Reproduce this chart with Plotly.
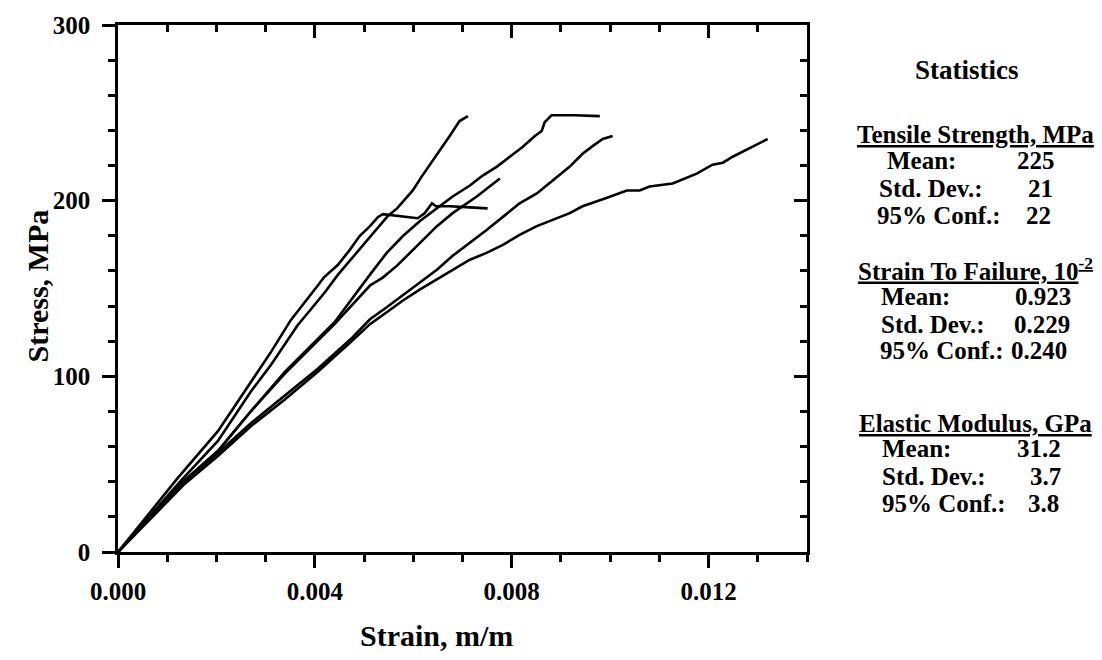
import plotly.graph_objects as go

# ---------------- data (strain in m/m, stress in MPa) ----------------
strain_a = [0, 0.00128, 0.00203, 0.00270, 0.00311, 0.00365, 0.00392, 0.00420, 0.00447, 0.00473,
            0.00502, 0.00528, 0.00548, 0.00567, 0.00599, 0.00617, 0.00638, 0.00656, 0.00674,
            0.00686, 0.00694, 0.00711]
stress_a = [0, 40.6, 63.2, 91.4, 106.6, 129.1, 138.2, 147.7, 157.9, 166.4,
            175.9, 184.4, 191.2, 195.6, 205.8, 213.7, 222.2, 229.0, 236.8,
            241.9, 245.3, 248.1]

strain_b = [0, 0.00122, 0.00203, 0.00270, 0.00311, 0.00351, 0.00380, 0.00406, 0.00418, 0.00430,
            0.00447, 0.00471, 0.00491, 0.00512, 0.00528, 0.00538, 0.00573, 0.00609, 0.00623,
            0.00638, 0.00646, 0.00674, 0.00715, 0.00751]
stress_b = [0, 42.3, 68.8, 97.0, 113.9, 132.0, 142.1, 151.7, 156.2, 159.0,
            163.5, 172.0, 179.9, 185.5, 190.6, 192.3, 191.2, 190.0, 192.8,
            198.5, 196.8, 196.8, 196.2, 195.6]

strain_c = [0, 0.00128, 0.00203, 0.00270, 0.00339, 0.00440, 0.00512, 0.00546, 0.00579, 0.00613,
            0.00648, 0.00680, 0.00715, 0.00741, 0.00770, 0.00796, 0.00822, 0.00847, 0.00861,
            0.00867, 0.00881, 0.00928, 0.00979]
stress_c = [0, 38.9, 57.5, 80.1, 102.6, 130.8, 157.9, 170.3, 179.9, 188.3,
            195.7, 202.4, 208.6, 214.3, 219.4, 225.0, 230.6, 236.8, 239.7,
            244.7, 248.6, 248.6, 248.1]

strain_d = [0, 0.00128, 0.00203, 0.00270, 0.00339, 0.00440, 0.00512, 0.00538, 0.00567, 0.00593,
            0.00619, 0.00648, 0.00680, 0.00700, 0.00729, 0.00755, 0.00776]
stress_d = [0, 38.9, 57.5, 80.1, 101.5, 129.7, 151.7, 156.2, 163.0, 170.3,
            177.6, 185.5, 192.9, 196.8, 202.4, 208.1, 212.6]

strain_e = [0, 0.00136, 0.00203, 0.00270, 0.00339, 0.00406, 0.00473, 0.00512, 0.00546, 0.00579,
            0.00613, 0.00648, 0.00680, 0.00715, 0.00749, 0.00784, 0.00816, 0.00851, 0.00883,
            0.00918, 0.00938, 0.00944, 0.00965, 0.00985, 0.01005]
stress_e = [0, 40.6, 56.4, 73.3, 89.1, 104.3, 121.2, 132.5, 139.3, 146.1,
            153.4, 160.7, 168.6, 176.0, 183.3, 191.2, 198.5, 204.1, 211.5,
            219.4, 225.0, 226.7, 231.2, 235.1, 236.8]

strain_f = [0, 0.00136, 0.00203, 0.00270, 0.00339, 0.00406, 0.00473, 0.00512, 0.00546, 0.00579,
            0.00613, 0.00648, 0.00680, 0.00715, 0.00749, 0.00782, 0.00816, 0.00851, 0.00918,
            0.00944, 0.00985, 0.01034, 0.01060, 0.01080, 0.01127, 0.01141, 0.01176, 0.01208,
            0.01229, 0.01249, 0.01284, 0.01320]
stress_f = [0, 38.9, 54.7, 71.6, 86.8, 102.6, 119.5, 129.7, 136.5, 143.2,
            149.4, 155.1, 160.7, 166.4, 170.3, 174.8, 180.5, 185.5, 192.9,
            196.8, 200.8, 205.8, 205.8, 208.1, 209.8, 211.5, 215.4, 220.5,
            221.6, 225.0, 230.1, 235.1]

x_ticks = [0.000, 0.004, 0.008, 0.012]
x_tick_labels = ["0.000", "0.004", "0.008", "0.012"]
y_ticks = [0, 100, 200, 300]
y_tick_labels = ["0", "100", "200", "300"]

stats_title = "Statistics"
group_titles = ["Tensile Strength, MPa", "Strain To Failure, 10<sup>-2</sup>", "Elastic Modulus, GPa"]
row_labels = ["Mean:", "Std. Dev.:", "95% Conf.:"]
group_values = [["225", "21", "22"], ["0.923", "0.229", "0.240"], ["31.2", "3.7", "3.8"]]

# ---------------- figure ----------------
W, H = 1102, 660
L, R, T, B = 118, 807, 20, 552
FONT = "Liberation Serif"
INK = "black"

fig = go.Figure()
curves = [(strain_a, stress_a), (strain_b, stress_b), (strain_c, stress_c),
          (strain_d, stress_d), (strain_e, stress_e), (strain_f, stress_f)]
for sx, sy in curves:
    fig.add_trace(go.Scatter(x=sx, y=sy, mode="lines", line=dict(color=INK, width=2.6),
                             showlegend=False, hoverinfo="skip"))
# empty trace so the mirrored (top/right) axes exist
fig.add_trace(go.Scatter(x=[None], y=[None], xaxis="x2", yaxis="y2", showlegend=False,
                         mode="lines", hoverinfo="skip"))

tick_font = dict(family=FONT, size=25, color=INK, weight="bold")
common = dict(showgrid=False, zeroline=False, showline=True, linecolor=INK, linewidth=2.6,
              tickcolor=INK, tickwidth=2.6, fixedrange=True)

fig.update_layout(
    width=W, height=H,
    margin=dict(l=L, r=W - R, t=T, b=H - B, pad=0),
    paper_bgcolor="white", plot_bgcolor="white",
    xaxis=dict(range=[0, 0.014], tickvals=x_ticks, ticktext=x_tick_labels, ticks="outside",
               ticklen=13, tickfont=tick_font, ticklabelstandoff=2,
               minor=dict(dtick=0.001, tick0=0, ticks="outside", ticklen=7, tickwidth=2.6,
                          tickcolor=INK, showgrid=False),
               **common),
    yaxis=dict(range=[0, 300], tickvals=y_ticks, ticktext=y_tick_labels, ticks="outside",
               ticklen=13, tickfont=tick_font, ticklabelstandoff=7,
               minor=dict(dtick=20, tick0=0, ticks="outside", ticklen=7, tickwidth=2.6,
                          tickcolor=INK, showgrid=False),
               **common),
    xaxis2=dict(range=[0, 0.014], overlaying="x", side="top", anchor="y", tickvals=x_ticks,
                ticks="inside", ticklen=13, showticklabels=False,
                minor=dict(dtick=0.001, tick0=0, ticks="inside", ticklen=7, tickwidth=2.6,
                           tickcolor=INK, showgrid=False),
                **common),
    yaxis2=dict(range=[0, 300], overlaying="y", side="right", anchor="x", tickvals=y_ticks,
                ticks="inside", ticklen=13, showticklabels=False,
                minor=dict(dtick=20, tick0=0, ticks="inside", ticklen=7, tickwidth=2.6,
                           tickcolor=INK, showgrid=False),
                **common),
)


def px(x):
    return (x - L) / (R - L)


def py(y):
    return (B - y) / (B - T)


def txt(text, x, y, size=24, xanchor="center", angle=0):
    fig.add_annotation(text=text, x=px(x), y=py(y), xref="paper", yref="paper",
                       showarrow=False, xanchor=xanchor, yanchor="middle", textangle=angle,
                       font=dict(family=FONT, size=size, color=INK, weight="bold"))


# axis titles
txt("Strain, m/m", 436, 636, size=30)
txt("Stress, MPa", 38, 284, size=30, angle=-90)

# statistics panel
txt(stats_title, 967, 65, size=27)
header_y = [131, 266, 422]
row_dy = [26, 54, 81]
label_x = [[885, 877, 875], [879, 879, 878], [880, 880, 880]]
value_x = [[1057, 1055, 1053], [1073, 1072, 1069], [1063, 1063, 1061]]
for g in range(3):
    txt("<u>" + group_titles[g] + "</u>", 975, header_y[g], size=25)
    for r in range(3):
        yy = header_y[g] + row_dy[r] + (2 if g == 1 else 0)
        txt(row_labels[r], label_x[g][r], yy, size=25, xanchor="left")
        txt(group_values[g][r], value_x[g][r], yy, size=25, xanchor="right")

fig.write_html("out.html", config={"displayModeBar": False},
               post_script="document.body.style.margin='0';document.body.style.padding='0';")
